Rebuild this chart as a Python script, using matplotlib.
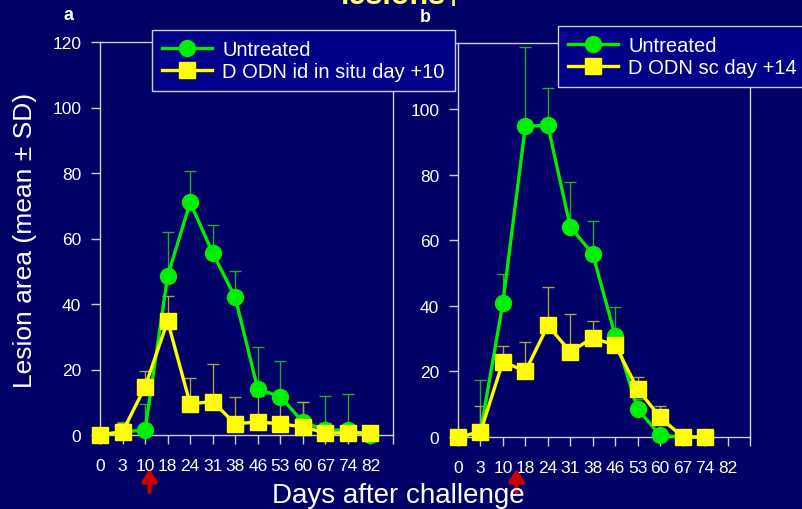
import matplotlib
matplotlib.use("Agg")
import matplotlib.pyplot as plt
import numpy as np
from matplotlib.transforms import blended_transform_factory

plt.rcParams['font.family'] = ['Liberation Sans', 'DejaVu Sans']

# ---- data ----
days = ["0", "3", "10", "18", "24", "31", "38", "46", "53", "60", "67", "74", "82"]

a_untreated = [0, 1, 1.5, 48.5, 71, 55.6, 42, 14, 11.7, 4, 1.5, 1.5, 0]
a_untreated_sd = [0, 3, 8, 13.5, 9.6, 8.4, 8, 13, 11, 6, 10.5, 11, 0]
a_treated = [0, 1, 14.7, 34.8, 9.5, 10.2, 3.4, 4, 3.4, 2.5, 0.6, 0.6, 0.6]
a_treated_sd = [0, 2.7, 4.8, 7.6, 7.9, 11.5, 8.2, 8, 7.6, 7.5, 3.1, 1, 0]

b_untreated = [0, 1.5, 41, 94.8, 95, 64, 55.8, 30.8, 8.5, 0.5, 0, 0]
b_untreated_sd = [0, 16, 8.7, 24.2, 11.4, 13.7, 10, 8.8, 3, 0, 0, 0]
b_treated = [0, 1.5, 23, 20, 34, 26, 30.2, 28, 14.6, 6, 0, 0]
b_treated_sd = [0, 8, 4.7, 9, 11.7, 11.5, 5.2, 4, 3.7, 3.5, 0, 0]

label_untreated = "Untreated"
label_a = "D ODN id in situ day +10"
label_b = "D ODN sc day +14"
arrow_a = 2.2   # position of treatment arrow (category index)
arrow_b = 2.6

# ---- style ----
BG = "#000066"
LEGBG = "#000088"
SPINE = "#d0d0d0"
GREEN = "#00ee00"
GREEN_ERR = "#22aa22"
YELLOW = "#ffff00"
YELLOW_ERR = "#aaa040"
W, H = 803, 510

fig = plt.figure(figsize=(W / 100, H / 100), dpi=100, facecolor=BG)


def make_axes(l, r, t, b):
    return fig.add_axes([l / W, 1 - b / H, (r - l) / W, (b - t) / H])


ax_a = make_axes(100, 393, 43, 436)
ax_b = make_axes(458, 750, 44.4, 438)


def draw_panel(ax, unt, unt_sd, trt, trt_sd, trt_label):
    ax.set_facecolor(BG)
    xu = np.arange(len(unt))
    xt = np.arange(len(trt))
    ax.errorbar(xu, unt, yerr=[np.zeros(len(unt)), unt_sd], fmt="none",
                ecolor=GREEN_ERR, elinewidth=1, capsize=4, capthick=1, zorder=2,
                clip_on=False)
    ax.errorbar(xt, trt, yerr=[np.zeros(len(trt)), trt_sd], fmt="none",
                ecolor=YELLOW_ERR, elinewidth=1, capsize=4, capthick=1, zorder=2,
                clip_on=False)
    l1, = ax.plot(xu, unt, "-o", color=GREEN, lw=2.4, ms=11.5, mec=GREEN,
                  label=label_untreated, zorder=3, clip_on=False)
    l2, = ax.plot(xt, trt, "-s", color=YELLOW, lw=2.4, ms=11, mec=YELLOW,
                  label=trt_label, zorder=4, clip_on=False)
    ax.set_xlim(0, 13)
    ax.set_ylim(0, 120)
    ax.set_xticks(np.arange(14))
    ax.set_xticklabels(days + [""])
    ax.set_yticks(np.arange(0, 121, 20))
    for s in ax.spines.values():
        s.set_color(SPINE)
        s.set_linewidth(1)
    ax.tick_params(colors=SPINE, labelcolor="white", length=6.5, width=1,
                   labelsize=12.5)
    ax.tick_params(axis="y", pad=7)
    ax.tick_params(axis="x", pad=10)
    return l1, l2


ha = draw_panel(ax_a, a_untreated, a_untreated_sd, a_treated, a_treated_sd, label_a)
hb = draw_panel(ax_b, b_untreated, b_untreated_sd, b_treated, b_treated_sd, label_b)

for ax, xpos in ((ax_a, arrow_a), (ax_b, arrow_b)):
    tr = blended_transform_factory(ax.transData, fig.transFigure)
    ax.annotate("", xy=(xpos, 1 - 470 / H), xytext=(xpos, 1 - 493 / H),
                xycoords=tr, textcoords=tr,
                arrowprops=dict(arrowstyle="-|>,head_width=0.45,head_length=0.7",
                                color="#cc0000", lw=3, shrinkA=0, shrinkB=0),
                annotation_clip=False)

leg_kw = dict(loc="upper left", frameon=True, fancybox=False, framealpha=1,
              facecolor=LEGBG, edgecolor=SPINE, fontsize=14.5, labelcolor="white",
              handlelength=2.5, handletextpad=0.5, borderaxespad=0,
              borderpad=0.5, labelspacing=0.15)
lega = fig.legend(ha, [label_untreated, label_a],
                  bbox_to_anchor=(152 / W, 1 - 31 / H), **leg_kw)
legb = fig.legend(hb, [label_untreated, label_b],
                  bbox_to_anchor=(558 / W, 1 - 27 / H), **leg_kw)
for lg in (lega, legb):
    lg.get_frame().set_linewidth(1)

fig.text(68 / W, 1 - 16 / H, "a", color="white", fontsize=13, fontweight="bold",
         ha="center", va="center")
fig.text(425 / W, 1 - 17.5 / H, "b", color="white", fontsize=13, fontweight="bold",
         ha="center", va="center")
fig.text(402 / W, 1 - 4.5 / H, "lesions\u2020", color="#ffff66", fontsize=22,
         fontweight="bold", ha="center", va="baseline")
fig.text(25 / W, 1 - 240 / H, "Lesion area (mean \u00b1 SD)", color="white",
         fontsize=19, rotation=90, ha="center", va="center")
fig.text(398 / W, 1 - 496 / H, "Days after challenge", color="white",
         fontsize=20, ha="center", va="center")

fig.savefig("out.png", dpi=100, facecolor=BG)
